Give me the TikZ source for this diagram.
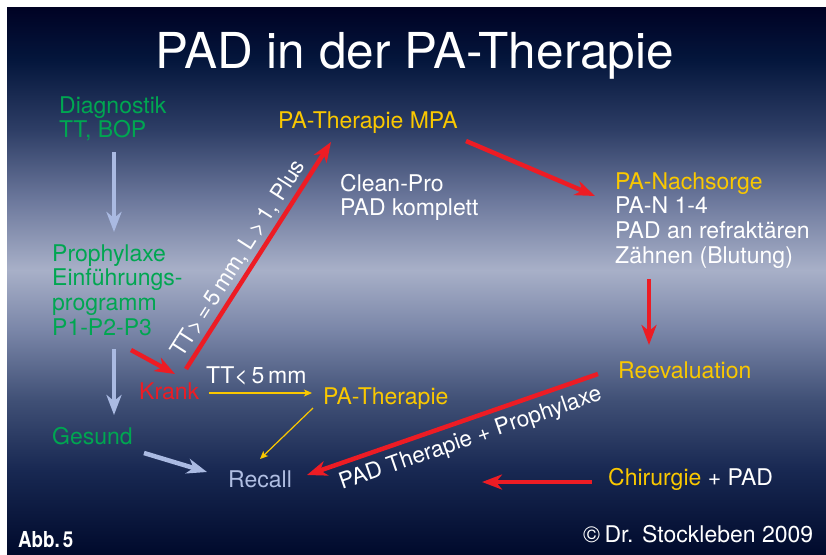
\documentclass[tikz,border=0pt]{standalone}
\usepackage{fontspec}
\setmainfont{TeX Gyre Heros}
\usetikzlibrary{arrows.meta}
\definecolor{padgreen}{RGB}{0,166,81}
\definecolor{padyellow}{RGB}{250,200,0}
\definecolor{padred}{RGB}{237,28,36}
\definecolor{padblue}{RGB}{170,186,226}
\definecolor{recallblue}{RGB}{176,190,226}
\definecolor{bgA}{RGB}{0,2,36}
\definecolor{bgB}{RGB}{4,22,60}
\definecolor{bgC}{RGB}{46,62,102}
\definecolor{bgD}{RGB}{108,120,156}
\definecolor{bgE}{RGB}{168,176,200}
\definecolor{bgF}{RGB}{122,134,168}
\definecolor{bgG}{RGB}{64,80,118}
\definecolor{bgH}{RGB}{24,40,82}
\definecolor{bgI}{RGB}{0,10,44}
\pgfdeclareverticalshading{panelshade}{100bp}{color(0bp)=(bgI); color(25bp)=(bgI); color(32.68bp)=(bgH); color(39.08bp)=(bgG); color(45.48bp)=(bgF); color(50.96bp)=(bgE); color(57.36bp)=(bgD); color(63.76bp)=(bgC); color(70.16bp)=(bgB); color(75bp)=(bgA); color(100bp)=(bgA)}
\tikzset{
  lbl/.style={anchor=base west, inner sep=0pt, font=\fontsize{23}{24.8}\selectfont},
  redarrow/.style={draw=padred, line width=4.5pt, -{Stealth[length=20pt,width=15pt,inset=6pt]}},
  bluearrow/.style={draw=padblue, line width=4.5pt, -{Stealth[length=20pt,width=15pt,inset=6pt]}},
  yarrow/.style={draw=padyellow, line width=1.2pt, -{Stealth[length=8pt,width=7pt,inset=2pt]}},
  slopelbl/.style={sloped, inner sep=1pt, text=white, font=\fontsize{22.5}{24.7}\selectfont}
}
\newcommand{\padlines}[1]{\begin{tabular}[t]{@{}l@{}}#1\end{tabular}}
\begin{document}
\begin{tikzpicture}[x=1pt,y=-1pt]
\useasboundingbox (0,0) rectangle (826,554);
\fill[white] (0,0) rectangle (826,554);
\shade[shading=panelshade] (7,7) rectangle (826,554);

% title
\node[anchor=base west, inner sep=0pt, text=white, font=\fontsize{49.5}{58}\selectfont] (title) at (155,68) {PAD in der PA-Therapie};

% text nodes
\node[lbl, text=padgreen] (diag) at (59,113) {\padlines{Diagnostik\\TT, BOP}};
\node[lbl, text=padgreen] (proph) at (52,261) {\padlines{Prophylaxe\\Einführungs-\\programm\\P1-P2-P3}};
\node[lbl, text=padgreen] (gesund) at (52,444) {Gesund};
\node[lbl, text=padred] (krank) at (139,399) {Krank};
\node[lbl, text=white] (tt5) at (206,383) {TT<\,5\,mm};
\node[lbl, text=padyellow] (pat) at (323,404) {PA-Therapie};
\node[lbl, text=recallblue] (recall) at (228,487) {Recall};
\node[lbl, text=padyellow] (mpa) at (278,128) {PA-Therapie MPA};
\node[lbl, text=white] (clean) at (340,191) {\padlines{Clean-Pro\\PAD komplett}};
\node[lbl, text=white] (nach) at (615,189) {\padlines{\textcolor{padyellow}{PA-Nachsorge}\\PA-N 1-4\\PAD an refraktären\\Zähnen (Blutung)}};
\node[lbl, text=padyellow] (reeval) at (618,378) {Reevaluation};
\node[lbl, text=white] (chir) at (608,485) {\textcolor{padyellow}{Chirurgie} + PAD};
\node[anchor=base west, inner sep=0pt, text=white, font=\fontsize{22}{24}\selectfont\bfseries] (abb) at (18,547) {\scalebox{0.85}[1]{Abb.\,5}};
\node[lbl, text=white] (copy) at (583,542) {©\kern-2pt\ Dr. Stockleben 2009};

% connector end points
\coordinate (diagOut) at (114,152);
\coordinate (prophIn) at (114,232);
\coordinate (prophOut) at (114,349);
\coordinate (gesundIn) at (114,415);
\coordinate (gesundOut) at (144,453);
\coordinate (recallInL) at (207,472);
\coordinate (prophOutR) at (131,350);
\coordinate (krankIn) at (175,374);
\coordinate (krankOut) at (186,369);
\coordinate (mpaIn) at (331,142);
\coordinate (mpaOut) at (466,141);
\coordinate (nachIn) at (595,196);
\coordinate (nachOut) at (649,279);
\coordinate (reevalIn) at (649,345);
\coordinate (reevalOut) at (598,374);
\coordinate (recallInR) at (307,475);
\coordinate (chirOut) at (592,482);
\coordinate (chirTip) at (482,482);
\coordinate (krankOutR) at (209,393);
\coordinate (patIn) at (312,393);
\coordinate (patOut) at (313,408);
\coordinate (recallInT) at (260,459);

% blue arrows
\draw[bluearrow] (diagOut) -- (prophIn);
\draw[bluearrow] (prophOut) -- (gesundIn);
\draw[bluearrow] (gesundOut) -- (recallInL);

% red arrows
\draw[redarrow] (prophOutR) -- (krankIn);
\draw[redarrow] (krankOut) -- (mpaIn);
\path (krankOut) -- node[slopelbl, pos=0.45, above=4pt] (lblA) {TT>\,=\,5\,mm, L\,>\,1, Plus} (mpaIn);
\draw[redarrow] (mpaOut) -- (nachIn);
\draw[redarrow] (nachOut) -- (reevalIn);
\draw[redarrow] (reevalOut) -- (recallInR);
\path (recallInR) -- node[slopelbl, pos=0.54, below=8pt] (lblB) {PAD Therapie + Prophylaxe} (reevalOut);
\draw[redarrow] (chirOut) -- (chirTip);

% yellow arrows
\draw[yarrow] (krankOutR) -- (patIn);
\draw[yarrow] (patOut) -- (recallInT);
\end{tikzpicture}
\end{document}
